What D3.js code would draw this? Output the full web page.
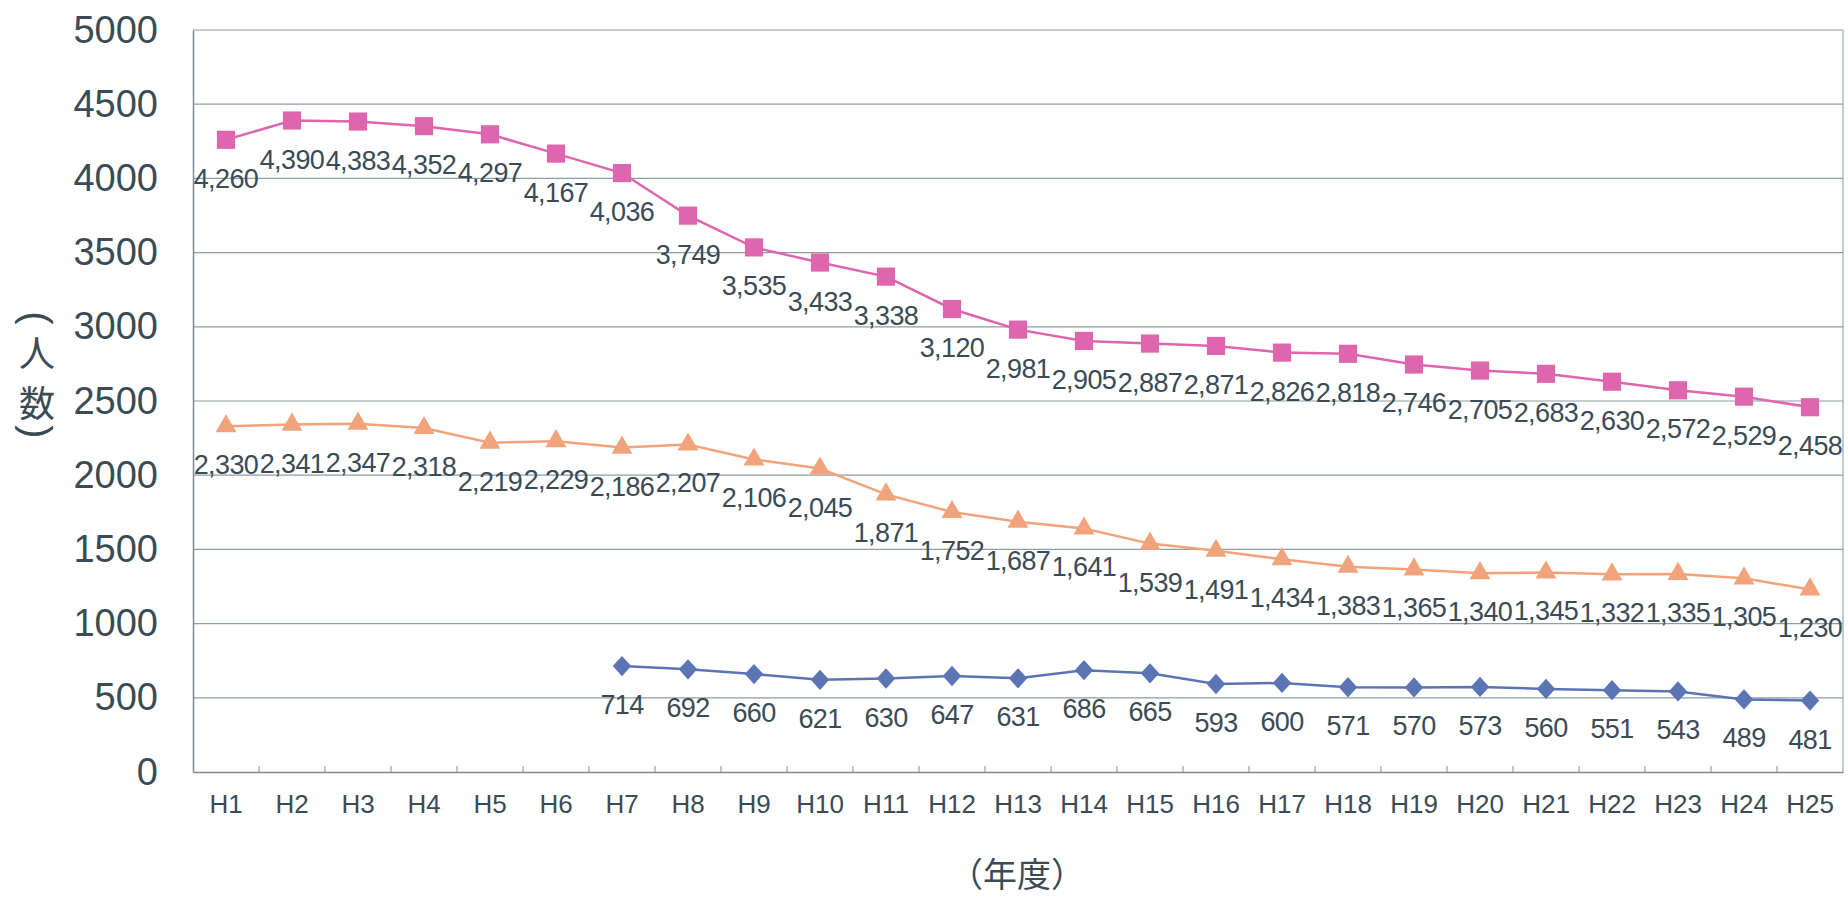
<!DOCTYPE html>
<html>
<head>
<meta charset="utf-8">
<script src="https://cdn.jsdelivr.net/npm/d3@7"></script>
<style>
  body { margin: 0; background: #fff; }
  text { font-family: "Liberation Sans", Arial, sans-serif; fill: #3b4b56; }
  .jp { font-family: "Noto Sans CJK JP", sans-serif; }
</style>
</head>
<body>
<svg id="chart"></svg>
<script>
// data
var years = ["H1","H2","H3","H4","H5","H6","H7","H8","H9","H10","H11","H12","H13",
  "H14","H15","H16","H17","H18","H19","H20","H21","H22","H23","H24","H25"];
var pinkValues = [4260,4390,4383,4352,4297,4167,4036,3749,3535,3433,3338,3120,2981,
  2905,2887,2871,2826,2818,2746,2705,2683,2630,2572,2529,2458];
var orangeValues = [2330,2341,2347,2318,2219,2229,2186,2207,2106,2045,1871,1752,1687,
  1641,1539,1491,1434,1383,1365,1340,1345,1332,1335,1305,1230];
// blue series starts at H7
var blueYears = years.slice(6);
var blueValues = [714,692,660,621,630,647,631,686,665,593,600,571,570,573,560,551,543,489,481];
var yTicks = [0,500,1000,1500,2000,2500,3000,3500,4000,4500,5000];

var svgWidth = 1848, svgHeight = 899;
var margin = {top: 30, right: 5, bottom: 127, left: 193};
var chartWidth = svgWidth - margin.left - margin.right;
var chartHeight = svgHeight - margin.top - margin.bottom;

var svg = d3.select("#chart")
  .attr("width", svgWidth)
  .attr("height", svgHeight);

var chartGroup = svg.append("g")
  .attr("transform", `translate(${margin.left}, ${margin.top})`);

var xBandScale = d3.scaleBand()
  .domain(years)
  .range([0, chartWidth])
  .padding(0);

var yLinearScale = d3.scaleLinear()
  .domain([0, 5000])
  .range([chartHeight, 0]);

var cx = d => xBandScale(d) + xBandScale.bandwidth() / 2;

// gridlines
chartGroup.append("g")
  .selectAll("line")
  .data(yTicks.filter(d => d > 0))
  .enter()
  .append("line")
  .attr("x1", 0)
  .attr("x2", chartWidth)
  .attr("y1", d => yLinearScale(d))
  .attr("y2", d => yLinearScale(d))
  .attr("stroke", "#8e9ea2")
  .attr("stroke-width", 1.2);

// right border
chartGroup.append("line")
  .attr("x1", chartWidth).attr("x2", chartWidth)
  .attr("y1", 0).attr("y2", chartHeight)
  .attr("stroke", "#9aa8ac").attr("stroke-width", 1.2);

// left axis
var leftAxis = d3.axisLeft(yLinearScale)
  .tickValues(yTicks)
  .tickFormat(d3.format("d"))
  .tickSize(0)
  .tickPadding(35);
var yAxisG = chartGroup.append("g").call(leftAxis);
yAxisG.select(".domain").attr("stroke", "#7d8d92").attr("stroke-width", 1.5);
yAxisG.selectAll("text")
  .style("font-size", "38px")
  .style("fill", "#3b4b56");

// bottom axis, ticks pointing inward at band edges
var bottomAxis = d3.axisBottom(xBandScale).tickSize(0).tickPadding(23);
var xAxisG = chartGroup.append("g")
  .attr("transform", `translate(0,${chartHeight})`)
  .call(bottomAxis);
xAxisG.select(".domain").attr("stroke", "#7d8d92").attr("stroke-width", 1.5);
xAxisG.selectAll("text")
  .style("font-size", "26px")
  .style("fill", "#3b4b56");

xAxisG.selectAll(".edge")
  .data(years.slice(1))
  .enter()
  .append("line")
  .attr("class", "edge")
  .attr("x1", d => xBandScale(d))
  .attr("x2", d => xBandScale(d))
  .attr("y1", 0)
  .attr("y2", -6)
  .attr("stroke", "#7d8d92");

// symbol types
var diamond = {
  draw: function(context, size) {
    var w = Math.sqrt(size) / 2, h = w * 1.1;
    context.moveTo(0, -h);
    context.lineTo(w, 0);
    context.lineTo(0, h);
    context.lineTo(-w, 0);
    context.closePath();
  }
};

function drawSeries(cats, values, color, symbolType, symbolSize) {
  var line = d3.line()
    .x((d, i) => cx(cats[i]))
    .y(d => yLinearScale(d));

  chartGroup.append("path")
    .attr("d", line(values))
    .attr("fill", "none")
    .attr("stroke", color)
    .attr("stroke-width", 2.5);

  chartGroup.append("g")
    .selectAll("path")
    .data(values)
    .enter()
    .append("path")
    .attr("d", d3.symbol().type(symbolType).size(symbolSize))
    .attr("transform", (d, i) => `translate(${cx(cats[i])},${yLinearScale(d)})`)
    .attr("fill", color);

  chartGroup.append("g")
    .selectAll("text")
    .data(values)
    .enter()
    .append("text")
    .attr("x", (d, i) => cx(cats[i]))
    .attr("y", d => yLinearScale(d) + 39)
    .attr("text-anchor", "middle")
    .attr("dominant-baseline", "central")
    .style("font-size", "27px")
    .style("letter-spacing", "-0.6px")
    .text(d => d3.format(",")(d));
}

drawSeries(blueYears, blueValues, "#5a74b4", diamond, 340);
drawSeries(years, orangeValues, "#f1a47c", d3.symbolTriangle, 190);
drawSeries(years, pinkValues, "#de66ae", d3.symbolSquare, 330);

// y axis title, stacked vertically with the brackets turned
var yTitle = [
  {t: "(", y: 318, rot: 90, cls: ""},
  {t: "人", y: 351, rot: 0, cls: "jp"},
  {t: "数", y: 401, rot: 0, cls: "jp"},
  {t: ")", y: 432, rot: 90, cls: ""}
];
svg.append("g")
  .selectAll("text")
  .data(yTitle)
  .enter()
  .append("text")
  .attr("class", d => d.cls)
  .attr("text-anchor", "middle")
  .attr("dominant-baseline", "central")
  .attr("transform", d => `translate(37,${d.y}) rotate(${d.rot})`)
  .style("font-size", d => d.cls ? "36px" : "40px")
  .text(d => d.t);

svg.append("text")
  .attr("class", "jp")
  .attr("x", 1017)
  .attr("y", 872)
  .attr("text-anchor", "middle")
  .attr("dominant-baseline", "central")
  .style("font-size", "34px")
  .text("（年度）");
</script>
</body>
</html>
